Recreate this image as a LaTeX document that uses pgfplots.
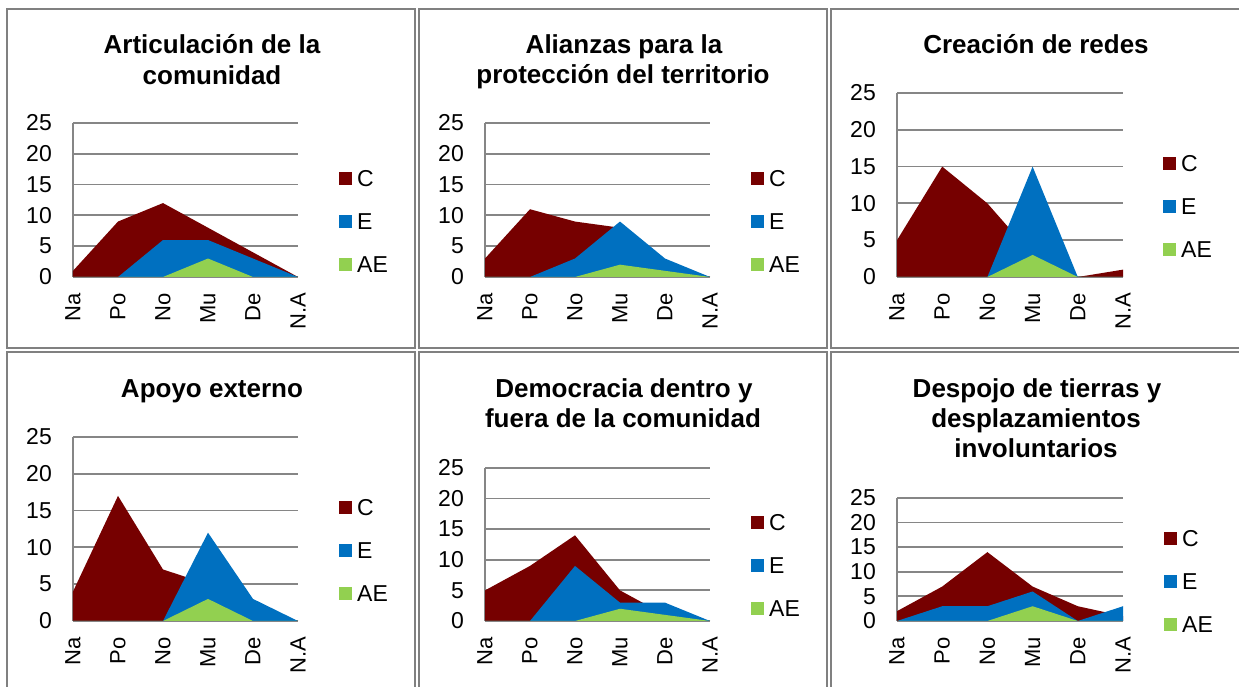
\documentclass[border=0pt]{standalone}
\usepackage{fontspec}
\setmainfont{Liberation Sans}
\usepackage{pgfplots}
\pgfplotsset{compat=1.18}
\definecolor{cC}{RGB}{118,0,0}
\definecolor{cE}{RGB}{0,112,192}
\definecolor{cAE}{RGB}{146,208,80}
\definecolor{gridg}{RGB}{134,134,134}
\definecolor{frameg}{RGB}{128,128,128}
\pgfplotsset{
  panel/.style={
    scale only axis,
    xmin=0, xmax=5, ymin=0, ymax=25,
    xtick={0,...,5}, xticklabels={Na,Po,No,Mu,De,N.A},
    ytick={0,5,...,25},
    /pgf/number format/assume math mode=true,
    axis x line=bottom, axis y line=left,
    axis line style={gridg, line width=1.8pt, -},
    ymajorgrids, grid style={gridg, line width=1.8pt},
    major tick length=0pt, tick style={draw=none},
    xticklabel style={rotate=90, anchor=east, inner sep=0pt, font=\fontsize{22}{26}\selectfont},
    yticklabel style={anchor=east, inner sep=0pt, font=\fontsize{23}{27}\selectfont},
    xticklabel shift=16pt, yticklabel shift=21pt,
    legend image code/.code={\fill[##1] (0pt,-6.5pt) rectangle (13pt,6.5pt);},
    legend cell align=left,
    legend style={at={(1,1)}, anchor=north west, draw=none, fill=none, inner sep=0pt,
      row sep=26.5pt, column sep=5pt, font=\fontsize{23}{27}\selectfont,
      nodes={inner sep=0pt, text height=16.5pt, text depth=0pt}},
  }
}
\begin{document}
\begin{tikzpicture}
\useasboundingbox (0,0) rectangle (1239pt,687pt);
\clip (0,0) rectangle (1239pt,687pt);
% frames
\draw[frameg, line width=2pt] (7.3pt,338.5pt) rectangle (415pt,677.7pt);
\draw[frameg, line width=2pt] (419pt,338.5pt) rectangle (827.3pt,677.7pt);
\draw[frameg, line width=2pt] (830.7pt,338.5pt) rectangle (1250pt,677.7pt);
\draw[frameg, line width=2pt] (7.3pt,-10pt) rectangle (415pt,334.7pt);
\draw[frameg, line width=2pt] (419pt,-10pt) rectangle (827.3pt,334.7pt);
\draw[frameg, line width=2pt] (830.7pt,-10pt) rectangle (1250pt,334.7pt);
% titles
\begin{scope}[every node/.style={font=\fontsize{26}{31}\selectfont\bfseries, anchor=base, inner sep=0pt}]
\node at (212pt,633pt) {Articulación de la};
\node at (212pt,602pt) {comunidad};
\node at (624pt,633pt) {Alianzas para la};
\node at (623pt,603pt) {protección del territorio};
\node at (1036pt,633pt) {Creación de redes};
\node at (212pt,289pt) {Apoyo externo};
\node at (624pt,289pt) {Democracia dentro y};
\node at (623pt,259pt) {fuera de la comunidad};
\node at (1037pt,289pt) {Despojo de tierras y};
\node at (1036pt,259pt) {desplazamientos};
\node at (1036pt,229pt) {involuntarios};
\end{scope}
% Panel 1
\begin{axis}[panel, at={(73pt,410pt)}, anchor=south west, width=225pt, height=154pt,
  legend style={xshift=41pt, yshift=-46.75pt}]
\addplot[fill=cC, draw=none] coordinates {(0,1) (1,9) (2,12) (3,8) (4,4) (5,0)} \closedcycle;
\addplot[fill=cE, draw=none] coordinates {(0,0) (1,0) (2,6) (3,6) (4,3) (5,0)} \closedcycle;
\addplot[fill=cAE, draw=none] coordinates {(0,0) (1,0) (2,0) (3,3) (4,0) (5,0)} \closedcycle;
\legend{C,E,AE}
\end{axis}
% Panel 2
\begin{axis}[panel, at={(485pt,410pt)}, anchor=south west, width=225pt, height=154pt,
  legend style={xshift=41pt, yshift=-47pt}]
\addplot[fill=cC, draw=none] coordinates {(0,3) (1,11) (2,9) (3,8) (4,2) (5,0)} \closedcycle;
\addplot[fill=cE, draw=none] coordinates {(0,0) (1,0) (2,3) (3,9) (4,3) (5,0)} \closedcycle;
\addplot[fill=cAE, draw=none] coordinates {(0,0) (1,0) (2,0) (3,2) (4,1) (5,0)} \closedcycle;
\legend{C,E,AE}
\end{axis}
% Panel 3
\begin{axis}[panel, at={(897pt,410pt)}, anchor=south west, width=226pt, height=184pt,
  legend style={xshift=40pt, yshift=-61.75pt}]
\addplot[fill=cC, draw=none] coordinates {(0,5) (1,15) (2,10) (3,3) (4,0) (5,1)} \closedcycle;
\addplot[fill=cE, draw=none] coordinates {(0,0) (1,0) (2,0) (3,15) (4,0) (5,0)} \closedcycle;
\addplot[fill=cAE, draw=none] coordinates {(0,0) (1,0) (2,0) (3,3) (4,0) (5,0)} \closedcycle;
\legend{C,E,AE}
\end{axis}
% Panel 4
\begin{axis}[panel, at={(73pt,66pt)}, anchor=south west, width=225pt, height=184pt,
  legend style={xshift=41pt, yshift=-61.75pt}]
\addplot[fill=cC, draw=none] coordinates {(0,4) (1,17) (2,7) (3,5) (4,2) (5,0)} \closedcycle;
\addplot[fill=cE, draw=none] coordinates {(0,0) (1,0) (2,0) (3,12) (4,3) (5,0)} \closedcycle;
\addplot[fill=cAE, draw=none] coordinates {(0,0) (1,0) (2,0) (3,3) (4,0) (5,0)} \closedcycle;
\legend{C,E,AE}
\end{axis}
% Panel 5
\begin{axis}[panel, at={(485pt,66pt)}, anchor=south west, width=225pt, height=153pt,
  legend style={xshift=41pt, yshift=-45.75pt}]
\addplot[fill=cC, draw=none] coordinates {(0,5) (1,9) (2,14) (3,5) (4,1) (5,0)} \closedcycle;
\addplot[fill=cE, draw=none] coordinates {(0,0) (1,0) (2,9) (3,3) (4,3) (5,0)} \closedcycle;
\addplot[fill=cAE, draw=none] coordinates {(0,0) (1,0) (2,0) (3,2) (4,1) (5,0)} \closedcycle;
\legend{C,E,AE}
\end{axis}
% Panel 6
\begin{axis}[panel, at={(897pt,66pt)}, anchor=south west, width=226pt, height=123pt,
  legend style={xshift=41pt, yshift=-31.75pt}]
\addplot[fill=cC, draw=none] coordinates {(0,2) (1,7) (2,14) (3,7) (4,3) (5,1)} \closedcycle;
\addplot[fill=cE, draw=none] coordinates {(0,0) (1,3) (2,3) (3,6) (4,0) (5,3)} \closedcycle;
\addplot[fill=cAE, draw=none] coordinates {(0,0) (1,0) (2,0) (3,3) (4,0) (5,0)} \closedcycle;
\legend{C,E,AE}
\end{axis}
\end{tikzpicture}
\end{document}
